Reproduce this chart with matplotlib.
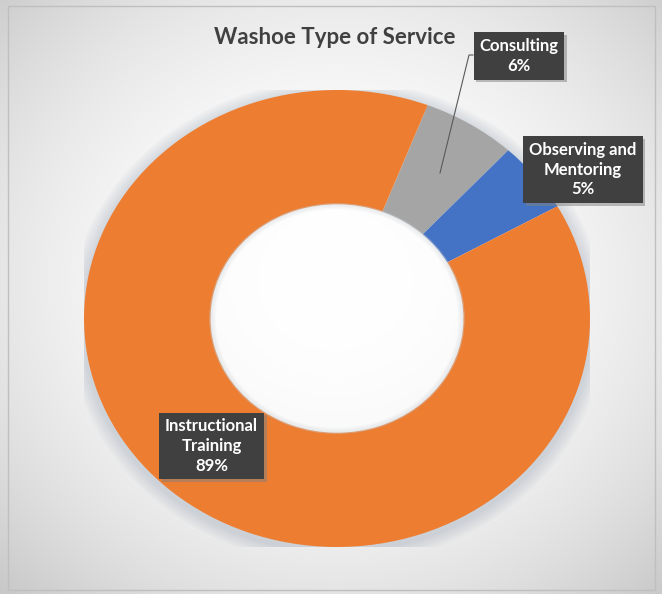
import numpy as np
import matplotlib
matplotlib.use("Agg")
import matplotlib.pyplot as plt
from matplotlib.patches import Rectangle, Wedge
import matplotlib.patheffects as pe

# ---- data ----
categories = ["Consulting", "Observing and\nMentoring", "Instructional\nTraining"]
values = [6, 5, 89]
colors = ["#A5A5A5", "#4472C4", "#ED7D31"]
title = "Washoe Type of Service"

W, H = 662, 594
fig = plt.figure(figsize=(W / 100, H / 100), dpi=100)

# ---- background with radial gradient ----
bg = fig.add_axes([0, 0, 1, 1], zorder=0)
yy, xx = np.mgrid[0:H, 0:W]
r = np.sqrt(((xx - 335) / 430.0) ** 2 + ((yy - 280) / 390.0) ** 2)
val = 1.0 - 0.17 * np.clip(r, 0, 1.2) ** 2.2
img = np.dstack([val, val, val])
bg.imshow(img, extent=(0, W, H, 0), aspect="auto", interpolation="bilinear")
bg.set_xlim(0, W)
bg.set_ylim(H, 0)
bg.axis("off")
bg.add_patch(Rectangle((7.5, 5.5), 647, 584, fill=False, edgecolor="#BFBFBF", lw=1))

# ---- donut ----
cx, cy, rx, ry = 337, 318.5, 253, 228.5
ax = fig.add_axes([(cx - rx) / W, (H - cy - ry) / H, 2 * rx / W, 2 * ry / H], zorder=1)
ax.patch.set_alpha(0)

# soft shadow ring outside donut
for s in np.linspace(1.06, 1.01, 6):
    ax.add_patch(Wedge((0, -0.015), s, 0, 360, width=s - 0.98, facecolor="#8C9AAE",
                       alpha=0.06, edgecolor="none", zorder=0))

wedges, _ = ax.pie(values, colors=colors, startangle=69, counterclock=False,
                   radius=1, wedgeprops=dict(width=0.5, edgecolor="none"))
for w in wedges:
    w.set_zorder(2)
# soft inner edge of the hole
for s in np.linspace(0.505, 0.48, 5):
    ax.add_patch(Wedge((0, 0), 0.505, 0, 360, width=0.505 - s, facecolor="#C9CED4",
                       alpha=0.12, edgecolor="none", zorder=3))
ax.set_aspect("auto")
ax.set_xlim(-1, 1)
ax.set_ylim(-1, 1)
ax.axis("off")

# ---- labels ----
def px2d(px, py):
    return (px - cx) / rx, (cy - py) / ry

label_pos = [(519, 56), (583, 169.5), (211.5, 446)]
for cat, v, (px, py) in zip(categories, values, label_pos):
    x, y = px2d(px, py)
    t = ax.text(x, y, f"{cat}\n{v}%", ha="center", va="center", fontsize=12,
                fontweight="bold", family="Lato", linespacing=1.28, color="white",
                bbox=dict(boxstyle="square,pad=0.35", facecolor="#404040",
                          edgecolor="none"), zorder=6, clip_on=False)
    t.get_bbox_patch().set_path_effects([
        pe.SimplePatchShadow(offset=(2, -2), shadow_rgbFace="#808080", alpha=0.5),
        pe.Normal()])

# leader line for Consulting
p0 = px2d(473, 55)
p1 = px2d(469, 55)
p2 = px2d(440, 173)
ax.plot([p0[0], p1[0], p2[0]], [p0[1], p1[1], p2[1]], color="#595959",
        lw=0.8, zorder=4, clip_on=False)

# ---- title ----
fig.text(335 / W, 1 - 37 / H, title, ha="center", va="center", fontsize=16,
         fontweight="bold", family="Lato", color="#404040")

fig.savefig("out.png", dpi=100)
